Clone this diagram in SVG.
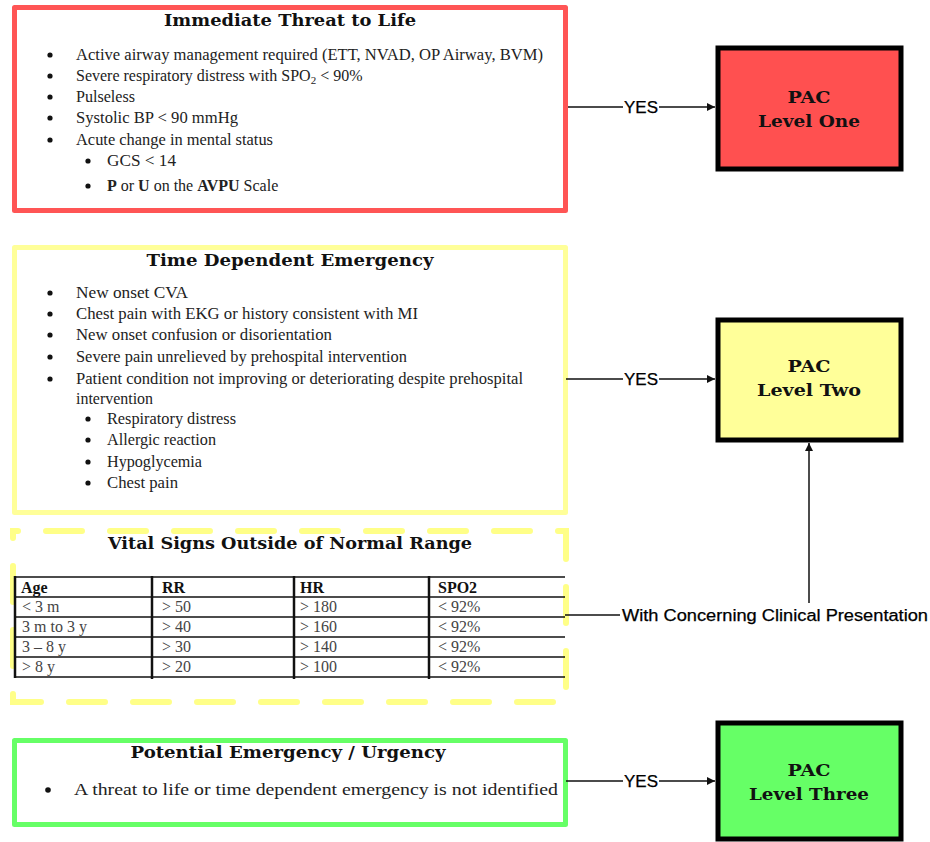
<svg xmlns="http://www.w3.org/2000/svg" width="930" height="842" viewBox="0 0 930 842">
<style>
  .title { font-family: "DejaVu Serif", "Liberation Serif", serif; font-weight: bold; font-size: 17px; fill: #111; text-anchor: middle; }
  .body { font-family: "Liberation Serif", "Times New Roman", serif; font-size: 16px; fill: #222; }
  .cell { font-family: "Liberation Serif", "Times New Roman", serif; font-size: 16px; fill: #444; }
  .head { font-family: "Liberation Serif", "Times New Roman", serif; font-size: 16px; font-weight: bold; fill: #111; }
  .pac { font-family: "DejaVu Serif", "Liberation Serif", serif; font-weight: bold; font-size: 17px; fill: #111; text-anchor: middle; }
  .lbl { font-family: "Liberation Sans", Arial, sans-serif; font-size: 16px; fill: #000; stroke: #000; stroke-width: 0.25; }
  .conn { fill: none; stroke: #111; stroke-width: 1.5; }
  .bul { fill: #111; }
  .tl { stroke: #111; stroke-width: 1.5; }
  .tv { stroke: #111; stroke-width: 2.5; }
</style>
<defs>
  <marker id="arr" viewBox="0 0 10 10" refX="10" refY="5" markerWidth="8" markerHeight="8" markerUnits="userSpaceOnUse" orient="auto">
    <path d="M0,0 L10,5 L0,10 z" fill="#111"/>
  </marker>
</defs>

<g id="threat">
  <rect x="14.5" y="7.5" width="551" height="203" fill="#fff" stroke="#ff5555" stroke-width="5" stroke-linejoin="round"/>
  <text class="title" x="290" y="26" textLength="252" lengthAdjust="spacingAndGlyphs">Immediate Threat to Life</text>
  <circle class="bul" cx="50" cy="55" r="2.6"/>
  <text class="body" x="76" y="60" textLength="467" lengthAdjust="spacingAndGlyphs">Active airway management required (ETT, NVAD, OP Airway, BVM)</text>
  <circle class="bul" cx="50" cy="76" r="2.6"/>
  <text class="body" x="76" y="81">Severe respiratory distress with SPO<tspan font-size="11" dy="3">2</tspan><tspan dy="-3"> &lt; 90%</tspan></text>
  <circle class="bul" cx="50" cy="97" r="2.6"/>
  <text class="body" x="76" y="102" textLength="59" lengthAdjust="spacingAndGlyphs">Pulseless</text>
  <circle class="bul" cx="50" cy="118" r="2.6"/>
  <text class="body" x="76" y="123" textLength="162" lengthAdjust="spacingAndGlyphs">Systolic BP &lt; 90 mmHg</text>
  <circle class="bul" cx="50" cy="140" r="2.6"/>
  <text class="body" x="76" y="145" textLength="197" lengthAdjust="spacingAndGlyphs">Acute change in mental status</text>
  <circle class="bul" cx="88" cy="161" r="2.6"/>
  <text class="body" x="107" y="166" textLength="69" lengthAdjust="spacingAndGlyphs">GCS &lt; 14</text>
  <circle class="bul" cx="88" cy="186" r="2.6"/>
  <text class="body" x="107" y="191"><tspan font-weight="bold">P</tspan> or <tspan font-weight="bold">U</tspan> on the <tspan font-weight="bold">AVPU</tspan> Scale</text>
</g>

<g id="time">
  <rect x="14.5" y="247.5" width="551" height="265" fill="#fff" stroke="#ffff99" stroke-width="5" stroke-linejoin="round"/>
  <text class="title" x="290" y="266" textLength="287" lengthAdjust="spacingAndGlyphs">Time Dependent Emergency</text>
  <circle class="bul" cx="50" cy="293" r="2.6"/>
  <text class="body" x="76" y="298" textLength="112" lengthAdjust="spacingAndGlyphs">New onset CVA</text>
  <circle class="bul" cx="50" cy="314" r="2.6"/>
  <text class="body" x="76" y="319" textLength="342" lengthAdjust="spacingAndGlyphs">Chest pain with EKG or history consistent with MI</text>
  <circle class="bul" cx="50" cy="335" r="2.6"/>
  <text class="body" x="76" y="340" textLength="256" lengthAdjust="spacingAndGlyphs">New onset confusion or disorientation</text>
  <circle class="bul" cx="50" cy="357" r="2.6"/>
  <text class="body" x="76" y="362" textLength="331" lengthAdjust="spacingAndGlyphs">Severe pain unrelieved by prehospital intervention</text>
  <circle class="bul" cx="50" cy="379" r="2.6"/>
  <text class="body" x="76" y="384" textLength="447" lengthAdjust="spacingAndGlyphs">Patient condition not improving or deteriorating despite prehospital</text>
  <text class="body" x="76" y="404" textLength="77" lengthAdjust="spacingAndGlyphs">intervention</text>
  <circle class="bul" cx="88" cy="419" r="2.6"/>
  <text class="body" x="107" y="424" textLength="129" lengthAdjust="spacingAndGlyphs">Respiratory distress</text>
  <circle class="bul" cx="88" cy="440" r="2.6"/>
  <text class="body" x="107" y="445" textLength="109" lengthAdjust="spacingAndGlyphs">Allergic reaction</text>
  <circle class="bul" cx="88" cy="462" r="2.6"/>
  <text class="body" x="107" y="467" textLength="95" lengthAdjust="spacingAndGlyphs">Hypoglycemia</text>
  <circle class="bul" cx="88" cy="483" r="2.6"/>
  <text class="body" x="107" y="488" textLength="71" lengthAdjust="spacingAndGlyphs">Chest pain</text>
</g>

<g id="vitals">
  <rect x="13" y="531" width="553" height="171" fill="#fff" stroke="#ffff88" stroke-width="6" stroke-dasharray="36 28" stroke-dashoffset="31" stroke-linecap="round"/>
  <text class="title" x="290" y="549" textLength="364" lengthAdjust="spacingAndGlyphs">Vital Signs Outside of Normal Range</text>
  <g id="table">
    <line class="tl" x1="14" y1="577" x2="565" y2="577"/>
    <line class="tl" x1="14" y1="597" x2="565" y2="597"/>
    <line class="tl" x1="14" y1="617" x2="565" y2="617"/>
    <line class="tl" x1="14" y1="637" x2="565" y2="637"/>
    <line class="tl" x1="14" y1="657" x2="565" y2="657"/>
    <line class="tl" x1="14" y1="677" x2="565" y2="677"/>
    <line class="tv" x1="15" y1="576" x2="15" y2="678"/>
    <line class="tv" x1="152" y1="576" x2="152" y2="679"/>
    <line class="tv" x1="294" y1="576" x2="294" y2="679"/>
    <line class="tv" x1="429" y1="576" x2="429" y2="679"/>
    <text class="head" x="21" y="593">Age</text>
    <text class="head" x="162" y="593">RR</text>
    <text class="head" x="300" y="593">HR</text>
    <text class="head" x="438" y="593">SPO2</text>
    <text class="cell" x="22" y="612">&lt; 3 m</text>
    <text class="cell" x="162" y="612">&gt; 50</text>
    <text class="cell" x="300" y="612">&gt; 180</text>
    <text class="cell" x="438" y="612">&lt; 92%</text>
    <text class="cell" x="22" y="632">3 m to 3 y</text>
    <text class="cell" x="162" y="632">&gt; 40</text>
    <text class="cell" x="300" y="632">&gt; 160</text>
    <text class="cell" x="438" y="632">&lt; 92%</text>
    <text class="cell" x="22" y="652">3 – 8 y</text>
    <text class="cell" x="162" y="652">&gt; 30</text>
    <text class="cell" x="300" y="652">&gt; 140</text>
    <text class="cell" x="438" y="652">&lt; 92%</text>
    <text class="cell" x="22" y="672">&gt; 8 y</text>
    <text class="cell" x="162" y="672">&gt; 20</text>
    <text class="cell" x="300" y="672">&gt; 100</text>
    <text class="cell" x="438" y="672">&lt; 92%</text>
  </g>
</g>

<g id="potential">
  <rect x="14.5" y="740.5" width="551" height="84" fill="#fff" stroke="#66ff66" stroke-width="5" stroke-linejoin="round"/>
  <text class="title" x="288" y="758" textLength="315" lengthAdjust="spacingAndGlyphs">Potential Emergency / Urgency</text>
  <circle class="bul" cx="48" cy="790" r="2.8"/>
  <text class="body" x="74" y="795" font-size="17" textLength="484" lengthAdjust="spacingAndGlyphs">A threat to life or time dependent emergency is not identified</text>
</g>

<g id="pac1">
  <rect x="718" y="48" width="183" height="121" fill="#ff5050" stroke="#000" stroke-width="5"/>
  <text class="pac" x="809" y="103" textLength="43" lengthAdjust="spacingAndGlyphs">PAC</text>
  <text class="pac" x="809" y="127" textLength="102" lengthAdjust="spacingAndGlyphs">Level One</text>
</g>

<g id="pac2">
  <rect x="718" y="320" width="183" height="120" fill="#ffff99" stroke="#000" stroke-width="5"/>
  <text class="pac" x="809" y="372" textLength="43" lengthAdjust="spacingAndGlyphs">PAC</text>
  <text class="pac" x="809" y="396" textLength="104" lengthAdjust="spacingAndGlyphs">Level Two</text>
</g>

<g id="pac3">
  <rect x="718" y="723" width="183" height="116" fill="#66ff66" stroke="#000" stroke-width="5"/>
  <text class="pac" x="809" y="776" textLength="43" lengthAdjust="spacingAndGlyphs">PAC</text>
  <text class="pac" x="809" y="800" textLength="120" lengthAdjust="spacingAndGlyphs">Level Three</text>
</g>

<g id="connectors">
  <path class="conn" d="M568,107 H623 M659,107 H715" marker-end="url(#arr)"/>
  <text class="lbl" x="624" y="113" textLength="34" lengthAdjust="spacingAndGlyphs">YES</text>
  <path class="conn" d="M566,379 H623 M659,379 H715" marker-end="url(#arr)"/>
  <text class="lbl" x="624" y="385" textLength="34" lengthAdjust="spacingAndGlyphs">YES</text>
  <path class="conn" d="M566,781 H623 M659,781 H715" marker-end="url(#arr)"/>
  <text class="lbl" x="624" y="787" textLength="34" lengthAdjust="spacingAndGlyphs">YES</text>
  <path class="conn" d="M565,615 H620"/>
  <text class="lbl" x="622" y="621" textLength="306" lengthAdjust="spacingAndGlyphs">With Concerning Clinical Presentation</text>
  <path class="conn" d="M809,603 V443" marker-end="url(#arr)"/>
</g>
</svg>
